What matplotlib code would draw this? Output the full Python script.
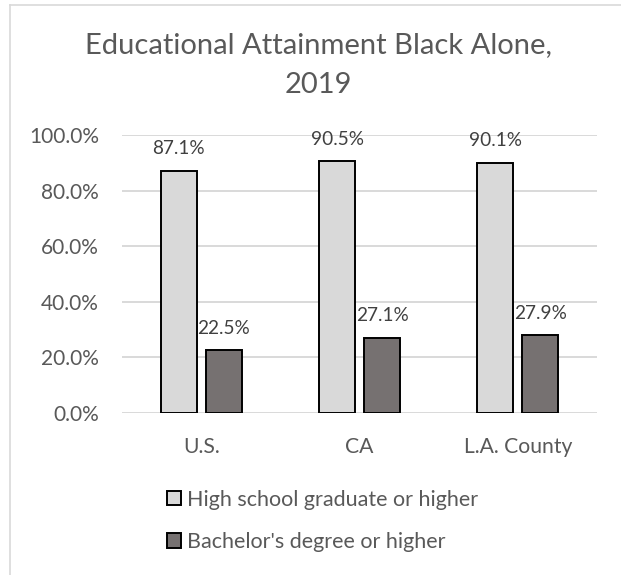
import numpy as np
import matplotlib
matplotlib.use("Agg")
import matplotlib.pyplot as plt
from matplotlib.lines import Line2D

plt.rcParams["font.family"] = ["Lato", "DejaVu Sans"]

GRAY_TXT = "#595959"
GRID = "#D9D9D9"

categories = ["U.S.", "CA", "L.A. County"]
series_names = ["High school graduate or higher", "Bachelor's degree or higher"]
high_school = [87.1, 90.5, 90.1]
bachelors = [22.5, 27.1, 27.9]
colors = ["#D9D9D9", "#767171"]
yticks = [0, 20, 40, 60, 80, 100]

W, H = 621, 575
fig = plt.figure(figsize=(W / 100, H / 100), dpi=100)

# plot area in pixels: x 122..597, y 135 (100%) .. 413 (0%)
ax = fig.add_axes([122 / W, 1 - 413 / H, (597 - 122) / W, (413 - 135) / H])

x = np.arange(len(categories))
bw, off = 0.227, 0.142
for vals, col, name, dx in [(high_school, colors[0], series_names[0], -off),
                            (bachelors, colors[1], series_names[1], off)]:
    bars = ax.bar(x + dx, vals, width=bw, color=col, edgecolor="black",
                  linewidth=1.4, label=name, zorder=3)
    for b, v in zip(bars, vals):
        ax.annotate(f"{v:.1f}%", (b.get_x() + b.get_width() / 2, v),
                    textcoords="offset pixels", xytext=(0, 22),
                    ha="center", va="center", fontsize=13.7, color="#404040")

ax.set_xlim(-0.5, len(categories) - 0.5)
ax.set_ylim(0, 100)
ax.set_yticks(yticks)
ax.set_yticklabels([f"{t:.1f}%" for t in yticks], fontsize=15, color=GRAY_TXT)
ax.set_xticks(x)
ax.set_xticklabels(categories, fontsize=15.2, color=GRAY_TXT)
ax.tick_params(length=0, axis="y", pad=16.5)
ax.tick_params(length=0, axis="x", pad=17)
ax.grid(axis="y", color=GRID, lw=1.4, zorder=0)
for s in ax.spines.values():
    s.set_visible(False)

fig.text(318 / W, 1 - 45 / H, "Educational Attainment Black Alone,",
         ha="center", va="center", fontsize=21, color=GRAY_TXT)
fig.text(318 / W, 1 - 85 / H, "2019",
         ha="center", va="center", fontsize=21, color=GRAY_TXT)

leg = fig.legend(loc="upper left", bbox_to_anchor=(158 / W, 1 - 481 / H),
                 frameon=False, fontsize=15.5, labelcolor=GRAY_TXT,
                 handlelength=0.65, handleheight=0.65, handletextpad=0.3,
                 labelspacing=1.04, borderaxespad=0)

# chart border (only top and left edge visible in the crop)
fig.add_artist(Line2D([10 / W, 1], [1 - 4.5 / H, 1 - 4.5 / H],
                      transform=fig.transFigure, color="#D9D9D9", lw=1.2))
fig.add_artist(Line2D([10 / W, 10 / W], [0, 1 - 4.5 / H],
                      transform=fig.transFigure, color="#D9D9D9", lw=1.2))

fig.savefig("out.png", dpi=100)
